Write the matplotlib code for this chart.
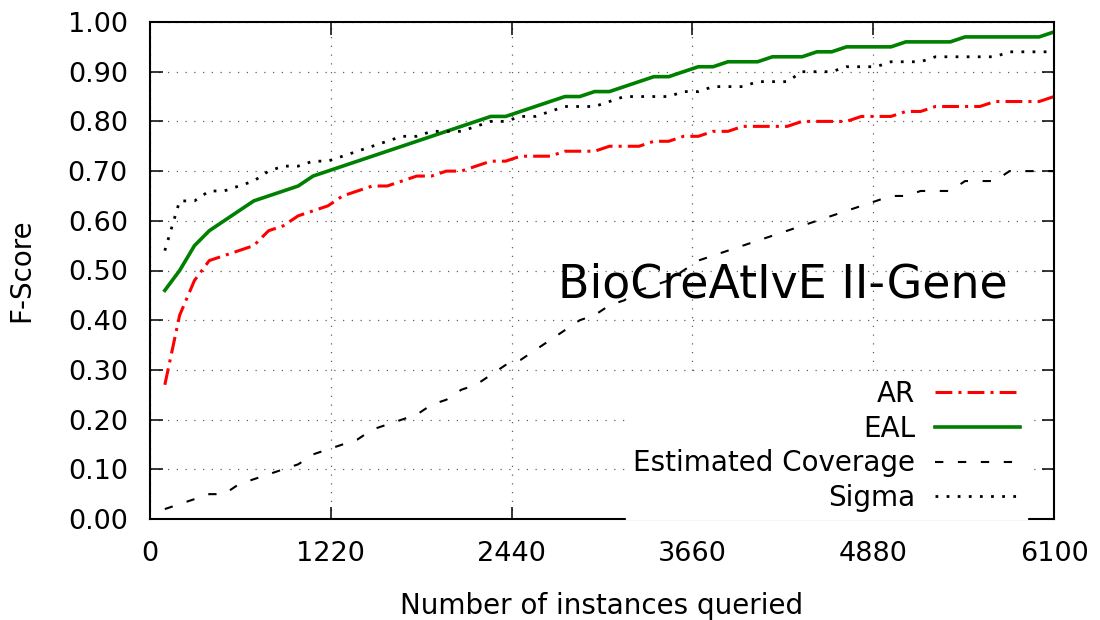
import numpy as np
import matplotlib
matplotlib.use('Agg')
import matplotlib.pyplot as plt
from matplotlib.ticker import FormatStrFormatter

##### DATA #####
instances = np.arange(100, 6101, 100)

ar = [0.27, 0.41, 0.48, 0.52, 0.53, 0.54, 0.55, 0.58, 0.59, 0.61,
      0.62, 0.63, 0.65, 0.66, 0.67, 0.67, 0.68, 0.69, 0.69, 0.70,
      0.70, 0.71, 0.72, 0.72, 0.73, 0.73, 0.73, 0.74, 0.74, 0.74,
      0.75, 0.75, 0.75, 0.76, 0.76, 0.77, 0.77, 0.78, 0.78, 0.79,
      0.79, 0.79, 0.79, 0.80, 0.80, 0.80, 0.80, 0.81, 0.81, 0.81,
      0.82, 0.82, 0.83, 0.83, 0.83, 0.83, 0.84, 0.84, 0.84, 0.84,
      0.85]

eal = [0.46, 0.50, 0.55, 0.58, 0.60, 0.62, 0.64, 0.65, 0.66, 0.67,
       0.69, 0.70, 0.71, 0.72, 0.73, 0.74, 0.75, 0.76, 0.77, 0.78,
       0.79, 0.80, 0.81, 0.81, 0.82, 0.83, 0.84, 0.85, 0.85, 0.86,
       0.86, 0.87, 0.88, 0.89, 0.89, 0.90, 0.91, 0.91, 0.92, 0.92,
       0.92, 0.93, 0.93, 0.93, 0.94, 0.94, 0.95, 0.95, 0.95, 0.95,
       0.96, 0.96, 0.96, 0.96, 0.97, 0.97, 0.97, 0.97, 0.97, 0.97,
       0.98]

coverage = [0.02, 0.03, 0.04, 0.05, 0.05, 0.07, 0.08, 0.09, 0.10, 0.11,
            0.13, 0.14, 0.15, 0.16, 0.18, 0.19, 0.20, 0.21, 0.23, 0.24,
            0.26, 0.27, 0.29, 0.31, 0.32, 0.34, 0.36, 0.38, 0.40, 0.41,
            0.43, 0.44, 0.46, 0.47, 0.48, 0.50, 0.52, 0.53, 0.54, 0.55,
            0.56, 0.57, 0.58, 0.59, 0.60, 0.61, 0.62, 0.63, 0.64, 0.65,
            0.65, 0.66, 0.66, 0.66, 0.68, 0.68, 0.68, 0.70, 0.70, 0.70,
            0.70]

sigma = [0.54, 0.64, 0.64, 0.66, 0.66, 0.67, 0.68, 0.70, 0.71, 0.71,
         0.72, 0.72, 0.73, 0.74, 0.75, 0.76, 0.77, 0.77, 0.78, 0.78,
         0.78, 0.79, 0.80, 0.80, 0.81, 0.81, 0.82, 0.83, 0.83, 0.83,
         0.84, 0.85, 0.85, 0.85, 0.85, 0.86, 0.86, 0.87, 0.87, 0.87,
         0.88, 0.88, 0.88, 0.90, 0.90, 0.90, 0.91, 0.91, 0.91, 0.92,
         0.92, 0.92, 0.93, 0.93, 0.93, 0.93, 0.93, 0.94, 0.94, 0.94,
         0.94]

x_ticks = [0, 1220, 2440, 3660, 4880, 6100]
y_ticks = [0.0, 0.1, 0.2, 0.3, 0.4, 0.5, 0.6, 0.7, 0.8, 0.9, 1.0]

##### PLOT #####
plt.rcParams['font.family'] = 'DejaVu Sans'
fig = plt.figure(figsize=(11, 6.2), dpi=100)
ax = fig.add_axes([150/1100, 101/620, 904/1100, 497/620])

ax.plot(instances, ar, color='red', lw=2.2, linestyle=(0, (5.5, 2, 1, 2)), label='AR')
ax.plot(instances, eal, color='green', lw=2.6, linestyle='-', label='EAL')
ax.plot(instances, coverage, color='black', lw=1.5, linestyle=(0, (4, 7)), label='Estimated Coverage')
ax.plot(instances, sigma, color='black', lw=2.0, linestyle=(0, (1, 3)), label='Sigma')

ax.set_xlim(0, 6100)
ax.set_ylim(0, 1)
ax.set_xticks(x_ticks)
ax.set_yticks(y_ticks)
ax.yaxis.set_major_formatter(FormatStrFormatter('%.2f'))
ax.grid(True, color='#606060', lw=0.9, linestyle=(0, (1, 6)))
ax.tick_params(direction='in', length=9, width=1.1, top=True, right=True,
               labelsize=19.5, pad=16)
for s in ax.spines.values():
    s.set_linewidth(1.5)

ax.set_xlabel('Number of instances queried', fontsize=20, labelpad=18)
ax.set_ylabel('F-Score', fontsize=20, labelpad=23)

ax.text(0.451, 0.445, 'BioCreAtIvE II-Gene', transform=ax.transAxes,
        fontsize=33, ha='left', va='baseline')

leg = ax.legend(loc='lower right', bbox_to_anchor=(0.97, 0.0), borderaxespad=0,
                markerfirst=False, alignment='right', fontsize=20,
                handlelength=3.05, handletextpad=0.72,
                labelspacing=0.24, borderpad=0.25, fancybox=False,
                frameon=True, framealpha=1, edgecolor='white', facecolor='white')

fig.savefig('out.png', dpi=100)
